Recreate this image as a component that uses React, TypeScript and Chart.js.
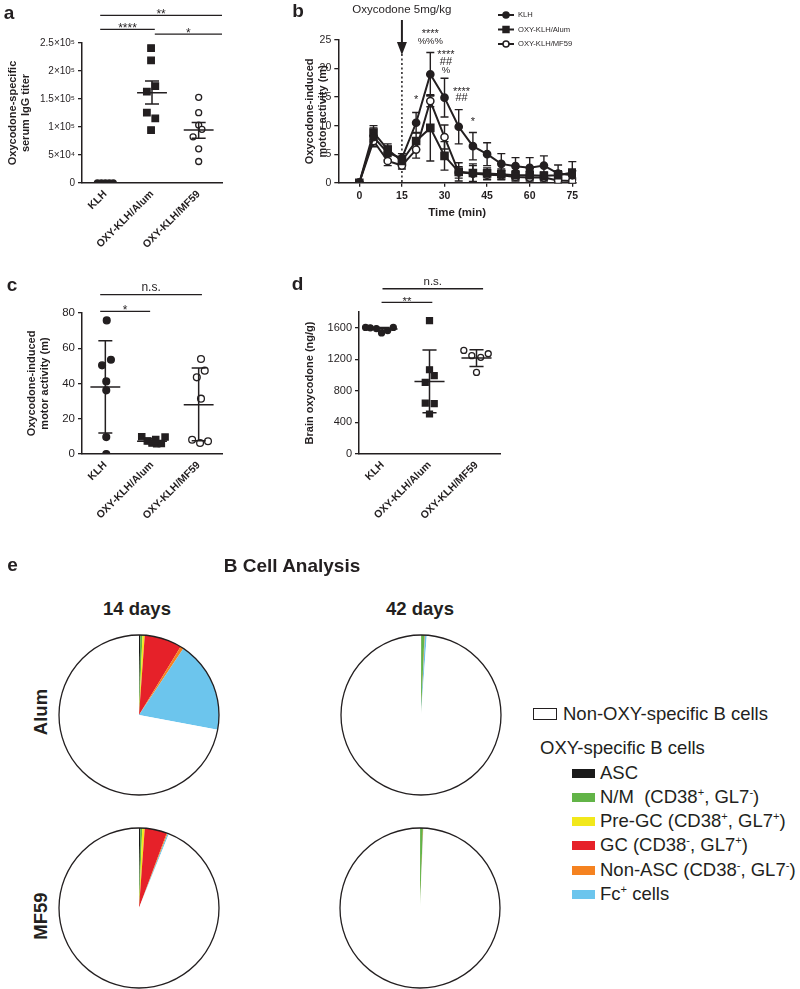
import React, { useEffect, useRef } from 'react';
import { Chart, registerables } from 'chart.js';

Chart.register(...registerables);

const FONT = '"Liberation Sans", Arial, Helvetica, sans-serif';
const INK = '#231f20';

// ---------------- shared ----------------
const groupLabels = ['KLH', 'OXY-KLH/Alum', 'OXY-KLH/MF59'];
const groupIndex = [1, 2, 3];

// ---------------- panel a : serum IgG titer ----------------
const titerTicks = [0, 50000, 100000, 150000, 200000, 250000];
const titerTickLabels = ['0', '5×10⁴', '1×10⁵', '1.5×10⁵', '2×10⁵', '2.5×10⁵'];
const titerKLH = [0, 0, 0, 0, 0];
const titerKLHJitter = [-0.17, -0.085, 0, 0.085, 0.17];
const titerAlum = [241000, 219000, 173000, 163000, 125500, 115500, 94500];
const titerAlumJitter = [-0.02, -0.02, 0.07, -0.11, -0.11, 0.07, -0.02];
const titerMF59 = [153000, 125500, 103500, 95800, 82500, 61000, 38400];
const titerMF59Jitter = [0, 0, 0, 0.07, -0.12, 0, 0];
const titerMean = [null, 161000, 94500];
const titerLow = [null, 141000, 80000];
const titerHigh = [null, 182000, 108000];

// ---------------- panel b : time course ----------------
const timeMin = [0, 5, 10, 15, 20, 25, 30, 35, 40, 45, 50, 55, 60, 65, 70, 75];
const timeTicks = [0, 15, 30, 45, 60, 75];
const activityTicks = [0, 5, 10, 15, 20, 25];
const klhActivity = [0, 8.0, 5.2, 4.3, 10.5, 19.0, 14.9, 9.8, 6.4, 5.0, 3.3, 2.9, 2.6, 3.0, 1.6, 1.3];
const klhError = [0, 1.6, 1.2, 0.8, 1.8, 3.8, 3.4, 3.0, 2.4, 2.0, 1.8, 1.5, 1.8, 1.7, 1.5, 0.8];
const alumActivity = [0, 8.8, 5.8, 3.8, 7.3, 9.6, 4.7, 1.9, 1.7, 1.6, 1.5, 1.3, 1.3, 1.2, 1.3, 1.8];
const alumError = [0, 1.2, 1.0, 0.8, 1.5, 5.8, 2.5, 1.6, 1.6, 1.0, 0.9, 0.8, 0.8, 0.7, 0.8, 1.9];
const mf59Activity = [0, 7.3, 3.8, 3.0, 5.8, 14.3, 8.0, 1.8, 1.6, 1.4, 1.3, 1.0, 0.9, 0.9, 0.4, 0.3];
const mf59Error = [0, 1.0, 0.8, 0.6, 1.5, 1.0, 2.1, 1.0, 1.4, 0.9, 0.8, 0.7, 0.6, 0.6, 0.5, 0.5];
const injectionTime = 15;
const sigTimes = [20, 25, 25, 30.5, 30.5, 30.5, 36, 36, 40];
const sigLevels = [14.96, 26.45, 24.82, 22.78, 21.09, 19.62, 16.36, 14.79, 11.16];
const sigMarks = ['*', '****', '%%%', '****', '##', '%', '****', '##', '*'];

// ---------------- panel c : total motor activity ----------------
const motorTicks = [0, 20, 40, 60, 80];
const motorKLH = [75.8, 53.5, 50.3, 41.2, 36.1, 9.6, 0];
const motorKLHJitter = [0.03, 0.12, -0.07, 0.02, 0.02, 0.02, 0.02];
const motorAlum = [9.8, 9.6, 7.4, 6.2, 5.8, 6.0, 8.2];
const motorAlumJitter = [-0.22, 0.28, -0.1, 0.0, 0.1, 0.2, 0.08];
const motorMF59 = [53.9, 47.3, 43.5, 31.4, 8.1, 6.2, 7.2];
const motorMF59Jitter = [0.05, 0.13, -0.04, 0.05, -0.14, 0.03, 0.2];
const motorMean = [38.0, 7.3, 27.9];
const motorLow = [11.9, 5.9, 7.5];
const motorHigh = [64.3, 9.0, 48.8];

// ---------------- panel d : brain oxycodone ----------------
const brainTicks = [0, 400, 800, 1200, 1600];
const brainKLH = [1605, 1600, 1590, 1535, 1565, 1605];
const brainKLHJitter = [-0.36, -0.26, -0.13, -0.02, 0.11, 0.23];
const brainAlum = [1690, 1068, 992, 908, 646, 638, 507];
const brainAlumJitter = [0, 0, 0.1, -0.09, -0.09, 0.1, 0];
const brainMF59 = [1313, 1246, 1225, 1271, 1034];
const brainMF59Jitter = [-0.27, -0.1, 0.09, 0.25, 0];
const brainMean = [1585, 920, 1217];
const brainLow = [1560, 523, 1110];
const brainHigh = [1605, 1318, 1322];

// ---------------- panel e : B cell pies ----------------
const cellTypes = ['ASC', 'N/M (CD38+, GL7-)', 'Pre-GC (CD38+, GL7+)', 'GC (CD38-, GL7+)', 'Non-ASC (CD38-, GL7-)', 'Fc+ cells', 'Non-OXY-specific B cells'];
const cellColors = ['#1a1a1a', '#62b447', '#f2e81b', '#e62129', '#f58220', '#6cc5ed', '#ffffff'];
const alum14 = [0.25, 0.45, 0.45, 7.55, 0.65, 18.6, 72.05];
const mf5914 = [0.25, 0.4, 0.5, 4.5, 0.2, 0.25, 93.9];
const alum42 = [0.05, 0.65, 0.03, 0.05, 0.02, 0.35, 98.85];
const mf5942 = [0.03, 0.55, 0.02, 0.03, 0.02, 0.05, 99.3];

// =======================================================
type Bar = { x0: number; x1: number; y: number; label: string };

function sigPlugin(bars: Bar[], size: number) {
  return {
    id: 'sigBars',
    afterDraw(chart: any) {
      const { ctx } = chart;
      const x = chart.scales.x;
      const y = chart.scales.y;
      ctx.save();
      ctx.strokeStyle = INK;
      ctx.fillStyle = INK;
      ctx.lineWidth = 1.3;
      ctx.font = `${size}px ${FONT}`;
      ctx.textAlign = 'center';
      ctx.textBaseline = 'alphabetic';
      bars.forEach((b) => {
        const p0 = x.getPixelForValue(b.x0);
        const p1 = x.getPixelForValue(b.x1);
        const py = y.getPixelForValue(b.y);
        ctx.beginPath();
        ctx.moveTo(p0, py);
        ctx.lineTo(p1, py);
        ctx.stroke();
        const isStar = b.label.indexOf('*') >= 0;
        ctx.fillText(b.label, (p0 + p1) / 2, isStar ? py + 3 : py - 4);
      });
      ctx.restore();
    },
  };
}

function meanPlugin(means: (number | null)[], lows: (number | null)[], highs: (number | null)[], halfMean: number, halfCap: number) {
  return {
    id: 'meanErr',
    afterDatasetsDraw(chart: any) {
      const { ctx } = chart;
      const x = chart.scales.x;
      const y = chart.scales.y;
      ctx.save();
      ctx.strokeStyle = INK;
      ctx.lineWidth = 1.5;
      means.forEach((m, i) => {
        if (m === null) return;
        const c = groupIndex[i];
        const ym = y.getPixelForValue(m);
        const yl = y.getPixelForValue(lows[i] as number);
        const yh = y.getPixelForValue(highs[i] as number);
        ctx.beginPath();
        ctx.moveTo(x.getPixelForValue(c - halfMean), ym);
        ctx.lineTo(x.getPixelForValue(c + halfMean), ym);
        ctx.moveTo(x.getPixelForValue(c), yl);
        ctx.lineTo(x.getPixelForValue(c), yh);
        ctx.moveTo(x.getPixelForValue(c - halfCap), yl);
        ctx.lineTo(x.getPixelForValue(c + halfCap), yl);
        ctx.moveTo(x.getPixelForValue(c - halfCap), yh);
        ctx.lineTo(x.getPixelForValue(c + halfCap), yh);
        ctx.stroke();
      });
      ctx.restore();
    },
  };
}

type Group = { values: number[]; jitter: number[]; style: string; fill: string };

function dotConfig(o: any) {
  const datasets = o.groups.map((g: Group, gi: number) => ({
    type: 'scatter',
    data: g.values.map((v, i) => ({ x: groupIndex[gi] + g.jitter[i], y: v })),
    pointStyle: g.style,
    pointRadius: g.style === 'rect' ? o.rectRadius : o.pointRadius,
    pointBackgroundColor: g.fill,
    pointBorderColor: INK,
    pointBorderWidth: 1.3,
    showLine: false,
  }));
  return {
    type: 'scatter',
    data: { datasets },
    options: {
      responsive: false,
      animation: false,
      events: [],
      layout: { padding: { left: o.padLeft, top: o.padTop, right: o.padRight, bottom: 0 } },
      plugins: { legend: { display: false }, tooltip: { enabled: false } },
      scales: {
        x: {
          type: 'linear',
          min: 0.5,
          max: 3.5,
          afterBuildTicks: (s: any) => {
            s.ticks = groupIndex.map((v) => ({ value: v }));
          },
          afterFit: (s: any) => {
            s.height = o.xHeight;
          },
          ticks: {
            autoSkip: false,
            minRotation: 45,
            maxRotation: 45,
            padding: 5,
            color: INK,
            font: { family: FONT, size: 10.5, weight: 'bold' },
            callback: (v: number) => groupLabels[v - 1],
          },
          grid: { display: true, drawOnChartArea: false, drawTicks: false },
          border: { display: true, color: INK, width: 1.5 },
        },
        y: {
          type: 'linear',
          min: o.yMin,
          max: o.yMax,
          afterBuildTicks: (s: any) => {
            s.ticks = o.yTicks.map((v: number) => ({ value: v }));
          },
          afterFit: (s: any) => {
            s.width = o.yWidth;
          },
          ticks: {
            padding: 3,
            color: INK,
            font: { family: FONT, size: o.tickSize },
            callback: o.yLabel,
          },
          grid: { display: true, drawOnChartArea: false, drawTicks: true, tickLength: 4, color: INK, lineWidth: 1.3 },
          border: { display: true, color: INK, width: 1.5 },
          title: {
            display: true,
            text: o.yTitle,
            color: INK,
            padding: { top: 7, bottom: 0 },
            font: { family: FONT, size: 11, weight: 'bold', lineHeight: 1.15 },
          },
        },
      },
    },
    plugins: [meanPlugin(o.means, o.lows, o.highs, 0.32, 0.15), sigPlugin(o.sig, o.sigSize)],
  };
}

function configA() {
  return dotConfig({
    groups: [
      { values: titerKLH, jitter: titerKLHJitter, style: 'circle', fill: INK },
      { values: titerAlum, jitter: titerAlumJitter, style: 'rect', fill: INK },
      { values: titerMF59, jitter: titerMF59Jitter, style: 'circle', fill: '#ffffff' },
    ],
    yMin: 0,
    yMax: 250000,
    yTicks: titerTicks,
    yLabel: (v: number) => titerTickLabels[titerTicks.indexOf(v)],
    yTitle: ['Oxycodone-specific', 'serum IgG titer'],
    tickSize: 10,
    padLeft: 0,
    padTop: 43,
    padRight: 8,
    yWidth: 82,
    xHeight: 87,
    pointRadius: 3,
    rectRadius: 4.6,
    means: titerMean,
    lows: titerLow,
    highs: titerHigh,
    sig: [
      { x0: 0.89, x1: 3.5, y: 299500, label: '**' },
      { x0: 0.89, x1: 2.06, y: 274400, label: '****' },
      { x0: 2.06, x1: 3.5, y: 266000, label: '*' },
    ],
    sigSize: 12,
  });
}

function configC() {
  return dotConfig({
    groups: [
      { values: motorKLH, jitter: motorKLHJitter, style: 'circle', fill: INK },
      { values: motorAlum, jitter: motorAlumJitter, style: 'rect', fill: INK },
      { values: motorMF59, jitter: motorMF59Jitter, style: 'circle', fill: '#ffffff' },
    ],
    yMin: 0,
    yMax: 80,
    yTicks: motorTicks,
    yLabel: (v: number) => String(v),
    yTitle: ['Oxycodone-induced', 'motor activity (m)'],
    tickSize: 11.5,
    padLeft: 19,
    padTop: 43,
    padRight: 8,
    yWidth: 63,
    xHeight: 101,
    pointRadius: 3.4,
    rectRadius: 4.4,
    means: motorMean,
    lows: motorLow,
    highs: motorHigh,
    sig: [
      { x0: 0.89, x1: 3.07, y: 90.4, label: 'n.s.' },
      { x0: 0.89, x1: 1.96, y: 80.9, label: '*' },
    ],
    sigSize: 12,
  });
}

function configD() {
  return dotConfig({
    groups: [
      { values: brainKLH, jitter: brainKLHJitter, style: 'circle', fill: INK },
      { values: brainAlum, jitter: brainAlumJitter, style: 'rect', fill: INK },
      { values: brainMF59, jitter: brainMF59Jitter, style: 'circle', fill: '#ffffff' },
    ],
    yMin: 0,
    yMax: 1800,
    yTicks: brainTicks,
    yLabel: (v: number) => String(v),
    yTitle: 'Brain oxycodone (ng/g)',
    tickSize: 11,
    padLeft: 67,
    padTop: 42,
    padRight: 10,
    yWidth: 62,
    xHeight: 101,
    pointRadius: 3,
    rectRadius: 4.2,
    means: brainMean,
    lows: brainLow,
    highs: brainHigh,
    sig: [
      { x0: 1.0, x1: 3.14, y: 2095, label: 'n.s.' },
      { x0: 0.98, x1: 2.06, y: 1922, label: '**' },
    ],
    sigSize: 11.5,
  });
}

// ---------------- panel b config ----------------
const seriesB = [
  { label: 'KLH', values: klhActivity, err: klhError, style: 'circle', fill: INK, radius: 3.6 },
  { label: 'OXY-KLH/Alum', values: alumActivity, err: alumError, style: 'rect', fill: INK, radius: 5 },
  { label: 'OXY-KLH/MF59', values: mf59Activity, err: mf59Error, style: 'circle', fill: '#ffffff', radius: 3.6 },
];

function drawMarker(ctx: any, style: string, fill: string, cx: number, cy: number, r: number) {
  ctx.beginPath();
  if (style === 'rect') {
    const s = r * Math.SQRT1_2;
    ctx.rect(cx - s, cy - s, 2 * s, 2 * s);
  } else {
    ctx.arc(cx, cy, r, 0, Math.PI * 2);
  }
  ctx.fillStyle = fill;
  ctx.fill();
  ctx.lineWidth = 1.5;
  ctx.strokeStyle = INK;
  ctx.stroke();
}

function configB() {
  return {
    type: 'line',
    data: {
      datasets: seriesB.map((s) => ({
        label: s.label,
        data: timeMin.map((t, i) => ({ x: t, y: s.values[i] })),
        borderColor: INK,
        borderWidth: 2,
        pointStyle: s.style,
        pointRadius: s.radius,
        pointBackgroundColor: s.fill,
        pointBorderColor: INK,
        pointBorderWidth: 1.5,
        tension: 0,
        fill: false,
      })),
    },
    options: {
      responsive: false,
      animation: false,
      events: [],
      layout: { padding: { left: 57, top: 40, right: 14, bottom: 0 } },
      plugins: { legend: { display: false }, tooltip: { enabled: false } },
      scales: {
        x: {
          type: 'linear',
          min: -7.4,
          max: 76.3,
          afterBuildTicks: (s: any) => {
            s.ticks = timeTicks.map((v) => ({ value: v }));
          },
          afterFit: (s: any) => {
            s.height = 47.3;
          },
          ticks: { padding: 3, color: INK, font: { family: FONT, size: 10.5, weight: 'bold' } },
          grid: { display: true, drawOnChartArea: false, drawTicks: true, tickLength: 4, color: INK, lineWidth: 1.3 },
          border: { display: true, color: INK, width: 1.5 },
          title: {
            display: true,
            text: 'Time (min)',
            color: INK,
            padding: { top: 0, bottom: 10 },
            font: { family: FONT, size: 11.5, weight: 'bold' },
          },
        },
        y: {
          type: 'linear',
          min: 0,
          max: 25,
          afterBuildTicks: (s: any) => {
            s.ticks = activityTicks.map((v) => ({ value: v }));
          },
          afterFit: (s: any) => {
            s.width = 41.3;
          },
          ticks: { padding: 3, color: INK, font: { family: FONT, size: 10.5 } },
          grid: { display: true, drawOnChartArea: false, drawTicks: true, tickLength: 4, color: INK, lineWidth: 1.3 },
          border: { display: true, color: INK, width: 1.5 },
          title: {
            display: true,
            text: ['Oxycodone-induced', 'motor activity (m)'],
            color: INK,
            padding: { top: 7, bottom: 0 },
            font: { family: FONT, size: 11, weight: 'bold', lineHeight: 1.15 },
          },
        },
      },
    },
    plugins: [
      {
        id: 'bExtras',
        beforeDatasetsDraw(chart: any) {
          const { ctx } = chart;
          const x = chart.scales.x;
          const y = chart.scales.y;
          ctx.save();
          // injection marker
          const xi = x.getPixelForValue(injectionTime);
          ctx.strokeStyle = INK;
          ctx.lineWidth = 1.5;
          ctx.setLineDash([2, 2.5]);
          ctx.beginPath();
          ctx.moveTo(xi, 54);
          ctx.lineTo(xi, y.getPixelForValue(0));
          ctx.stroke();
          ctx.setLineDash([]);
          ctx.lineWidth = 2;
          ctx.beginPath();
          ctx.moveTo(xi, 20);
          ctx.lineTo(xi, 44);
          ctx.stroke();
          ctx.beginPath();
          ctx.moveTo(xi - 5, 42);
          ctx.lineTo(xi + 5, 42);
          ctx.lineTo(xi, 55);
          ctx.closePath();
          ctx.fillStyle = INK;
          ctx.fill();
          ctx.font = `11.5px ${FONT}`;
          ctx.textAlign = 'center';
          ctx.textBaseline = 'middle';
          ctx.fillText('Oxycodone 5mg/kg', xi, 10);
          // error bars
          ctx.lineWidth = 1.4;
          seriesB.forEach((s) => {
            timeMin.forEach((t, i) => {
              if (!s.err[i]) return;
              const px = x.getPixelForValue(t);
              const hi = y.getPixelForValue(s.values[i] + s.err[i]);
              const lo = y.getPixelForValue(Math.max(0, s.values[i] - s.err[i]));
              ctx.beginPath();
              ctx.moveTo(px, lo);
              ctx.lineTo(px, hi);
              ctx.moveTo(px - 4, hi);
              ctx.lineTo(px + 4, hi);
              ctx.moveTo(px - 4, lo);
              ctx.lineTo(px + 4, lo);
              ctx.stroke();
            });
          });
          ctx.restore();
        },
        afterDraw(chart: any) {
          const { ctx } = chart;
          const x = chart.scales.x;
          const y = chart.scales.y;
          ctx.save();
          ctx.fillStyle = INK;
          ctx.textAlign = 'center';
          ctx.textBaseline = 'middle';
          sigMarks.forEach((m, i) => {
            const isStar = m.indexOf('*') >= 0;
            ctx.font = `${m.indexOf('%') >= 0 ? 9.5 : 11}px ${FONT}`;
            ctx.fillText(m, x.getPixelForValue(sigTimes[i]), y.getPixelForValue(sigLevels[i]) + (isStar ? 2.5 : 0));
          });
          // legend
          seriesB.forEach((s, i) => {
            const ly = 15 + i * 14.5;
            ctx.strokeStyle = INK;
            ctx.lineWidth = 2;
            ctx.beginPath();
            ctx.moveTo(258, ly);
            ctx.lineTo(274, ly);
            ctx.stroke();
            drawMarker(ctx, s.style, s.fill, 266, ly, s.style === 'rect' ? 4.2 : 3);
            ctx.fillStyle = INK;
            ctx.font = `7.6px ${FONT}`;
            ctx.textAlign = 'left';
            ctx.fillText(s.label, 278, ly);
          });
          ctx.restore();
        },
      },
    ],
  };
}

// ---------------- pies ----------------
function pieConfig(values: number[]) {
  return {
    type: 'pie',
    data: {
      labels: cellTypes,
      datasets: [{ data: values, backgroundColor: cellColors, borderWidth: 0, radius: 80 }],
    },
    options: {
      responsive: false,
      animation: false,
      events: [],
      layout: { padding: 0 },
      plugins: { legend: { display: false }, tooltip: { enabled: false } },
    },
    plugins: [
      {
        id: 'outline',
        afterDatasetsDraw(chart: any) {
          const arc = chart.getDatasetMeta(0).data[0];
          if (!arc) return;
          const { ctx } = chart;
          ctx.save();
          ctx.strokeStyle = INK;
          ctx.lineWidth = 1.3;
          ctx.beginPath();
          ctx.arc(arc.x, arc.y, arc.outerRadius, 0, Math.PI * 2);
          ctx.stroke();
          ctx.restore();
        },
      },
    ],
  };
}

// =======================================================
function ChartBox({ left, top, width, height, make }: any) {
  const ref = useRef<HTMLCanvasElement>(null);
  useEffect(() => {
    const chart = new Chart(ref.current as HTMLCanvasElement, make());
    return () => chart.destroy();
  }, []);
  return (
    <canvas
      ref={ref}
      width={width}
      height={height}
      style={{ position: 'absolute', left, top, width, height }}
    />
  );
}

function Txt({ x, y, size, bold, rotate, children }: any) {
  return (
    <div
      style={{
        position: 'absolute',
        left: x,
        top: y,
        fontSize: size,
        fontWeight: bold ? 'bold' : 'normal',
        lineHeight: 1,
        whiteSpace: 'nowrap',
        transform: `translate(-50%, -50%)${rotate ? ' rotate(-90deg)' : ''}`,
      }}
    >
      {children}
    </div>
  );
}

function LegendItem({ y, color, children }: any) {
  return (
    <>
      <div style={{ position: 'absolute', left: 572, top: y - 4.5, width: 23, height: 9, background: color }} />
      <div style={{ position: 'absolute', left: 600, top: y, fontSize: 18.5, lineHeight: 1, whiteSpace: 'nowrap', transform: 'translateY(-50%)' }}>
        {children}
      </div>
    </>
  );
}

const supStyle: any = { fontSize: '60%', verticalAlign: 'top', position: 'relative', top: -1 };

export default function App() {
  return (
    <div
      style={{
        position: 'absolute',
        left: 0,
        top: 0,
        width: 800,
        height: 989,
        background: '#fff',
        fontFamily: FONT,
        color: INK,
        overflow: 'hidden',
      }}
    >
      <ChartBox left={0} top={0} width={230} height={270} make={configA} />
      <ChartBox left={240} top={0} width={350} height={230} make={configB} />
      <ChartBox left={0} top={270} width={230} height={285} make={configC} />
      <ChartBox left={230} top={270} width={280} height={285} make={configD} />

      <Txt x={9} y={11.5} size={19} bold>a</Txt>
      <Txt x={298} y={10} size={19} bold>b</Txt>
      <Txt x={12} y={284} size={19} bold>c</Txt>
      <Txt x={297.5} y={283.3} size={19} bold>d</Txt>
      <Txt x={12.5} y={564} size={19} bold>e</Txt>

      <Txt x={292} y={565} size={19} bold>B Cell Analysis</Txt>
      <Txt x={137} y={609} size={18.5} bold>14 days</Txt>
      <Txt x={420} y={609} size={18.5} bold>42 days</Txt>
      <Txt x={41} y={712} size={18.5} bold rotate>Alum</Txt>
      <Txt x={41} y={916} size={18.5} bold rotate>MF59</Txt>

      <ChartBox left={54} top={630} width={170} height={170} make={() => pieConfig(alum14)} />
      <ChartBox left={336} top={630} width={170} height={170} make={() => pieConfig(alum42)} />
      <ChartBox left={54} top={823} width={170} height={170} make={() => pieConfig(mf5914)} />
      <ChartBox left={335} top={823} width={170} height={170} make={() => pieConfig(mf5942)} />

      <div style={{ position: 'absolute', left: 533, top: 708, width: 22, height: 10, border: `1.5px solid ${INK}` }} />
      <div style={{ position: 'absolute', left: 563, top: 714, fontSize: 18.5, lineHeight: 1, whiteSpace: 'nowrap', transform: 'translateY(-50%)' }}>
        Non-OXY-specific B cells
      </div>
      <div style={{ position: 'absolute', left: 540, top: 748, fontSize: 18.5, lineHeight: 1, whiteSpace: 'nowrap', transform: 'translateY(-50%)' }}>
        OXY-specific B cells
      </div>
      <LegendItem y={773} color={cellColors[0]}>ASC</LegendItem>
      <LegendItem y={797} color={cellColors[1]}>
        N/M&nbsp; (CD38<span style={supStyle}>+</span>, GL7<span style={supStyle}>-</span>)
      </LegendItem>
      <LegendItem y={821} color={cellColors[2]}>
        Pre-GC (CD38<span style={supStyle}>+</span>, GL7<span style={supStyle}>+</span>)
      </LegendItem>
      <LegendItem y={845} color={cellColors[3]}>
        GC (CD38<span style={supStyle}>-</span>, GL7<span style={supStyle}>+</span>)
      </LegendItem>
      <LegendItem y={870} color={cellColors[4]}>
        Non-ASC (CD38<span style={supStyle}>-</span>, GL7<span style={supStyle}>-</span>)
      </LegendItem>
      <LegendItem y={894} color={cellColors[5]}>
        Fc<span style={supStyle}>+</span> cells
      </LegendItem>
    </div>
  );
}
